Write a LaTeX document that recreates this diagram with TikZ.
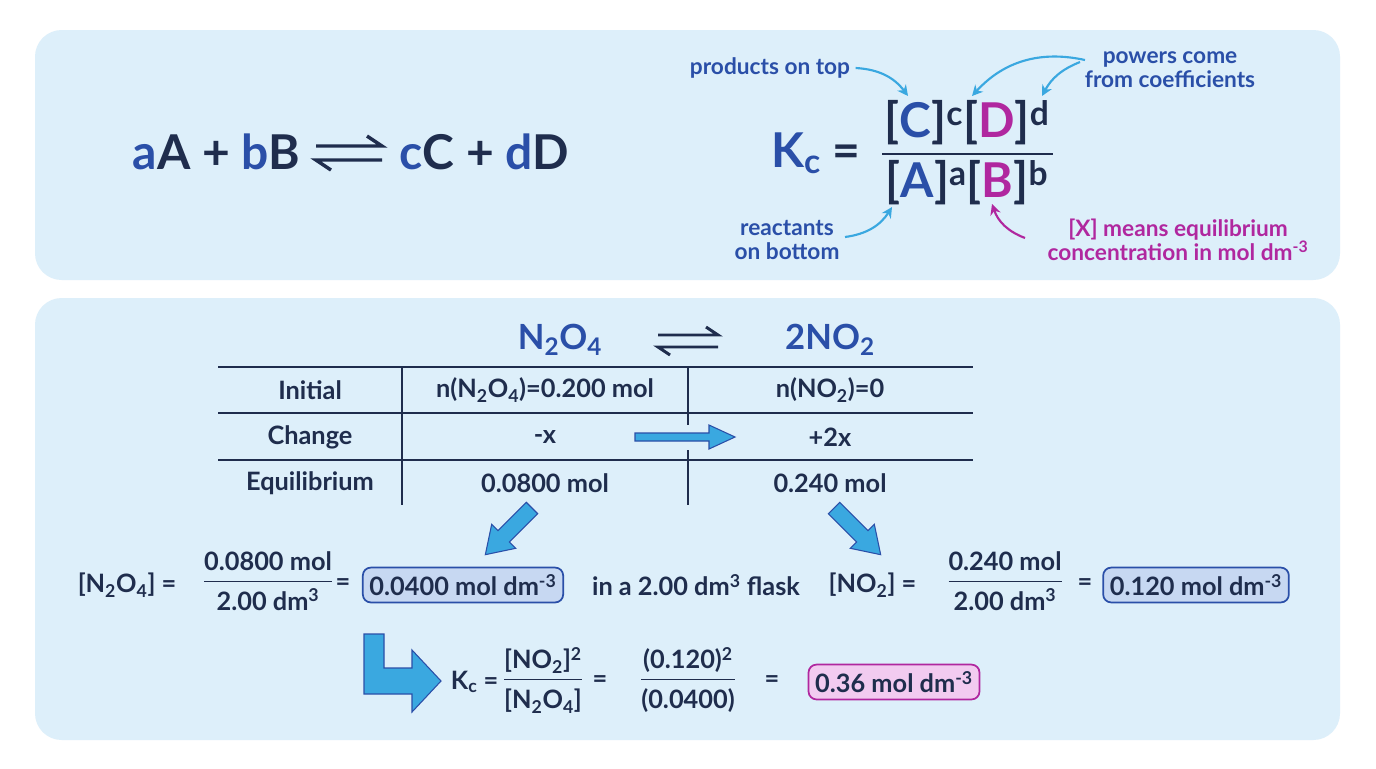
\documentclass[tikz,border=0pt]{standalone}
\usepackage{fontspec}
\setmainfont{Lato}
\usetikzlibrary{arrows.meta}
\definecolor{navy}{HTML}{1F2D4D}
\definecolor{eqblue}{HTML}{2A4FA8}
\definecolor{mag}{HTML}{B0279F}
\definecolor{cyanA}{HTML}{3AA8E0}
\definecolor{panel}{HTML}{DDEFFA}
\definecolor{boxb}{HTML}{C7D8F2}
\definecolor{boxp}{HTML}{F2CBF0}
\newcommand{\fr}[2]{\setlength{\arrayrulewidth}{1.3pt}\begin{tabular}{@{}c@{}}#1\\[1pt]\hline\rule{0pt}{1.1em}#2\end{tabular}}
\newcommand{\sub}[1]{\textsubscript{#1}}
\newcommand{\sps}[1]{\textsuperscript{#1}}
% fat arrow: at, rotation, length, half shaft, half head, head length
\newcommand{\fatarr}[6]{\begin{scope}[shift={#1},rotate=#2]
\fill[cyanA,draw=eqblue,line width=0.8pt] (0,-#4) -- ({#3-#6},-#4) -- ({#3-#6},-#5) -- (#3,0) -- ({#3-#6},#5) -- ({#3-#6},#4) -- (0,#4) -- cycle;
\end{scope}}
\begin{document}
\begin{tikzpicture}[x=0.75pt,y=-0.75pt,
  txt/.style={text=navy,font=\fontsize{19}{21}\selectfont\bfseries,inner sep=1pt},
  ann/.style={text=eqblue,font=\fontsize{17}{18}\selectfont\bfseries,align=center,inner sep=1pt},
  big/.style={text=navy,font=\fontsize{36}{38}\selectfont\bfseries,inner sep=1pt},
  res/.style={draw=eqblue,line width=1.3pt,fill=boxb,rounded corners=6pt,inner sep=5pt,text=navy,font=\fontsize{19}{21}\selectfont\bfseries},
  carr/.style={draw=cyanA,line width=1.6pt,-{Stealth[length=8pt,width=8pt]}},
  tl/.style={draw=navy,line width=1.5pt}]
\useasboundingbox (0,0) rectangle (1376,768);
\fill[white] (0,0) rectangle (1376,768);
\fill[panel,rounded corners=20pt] (35,30) rectangle (1340,280);
\fill[panel,rounded corners=20pt] (35,298) rectangle (1340,740);
% top left equation
\node[big,anchor=east] (lhs) at (302,152) {\textcolor{eqblue}{a}A + \textcolor{eqblue}{b}B};
\node[big,anchor=west] (rhs) at (398,152) {\textcolor{eqblue}{c}C + \textcolor{eqblue}{d}D};
\draw[navy,line width=2.6pt] (316,146) -- (382,146) -- (367,136);
\draw[navy,line width=2.6pt] (382,160) -- (316,160) -- (331,170);
% Kc
\node[big,anchor=east] (kc) at (862,153) {\textcolor{eqblue}{K\sub{c}} =};
\draw[navy,line width=2.2pt] (882,154) -- (1053,154);
\node[big] (num) at (967,123) {[\textcolor{eqblue}{C}]\sps{c}[\textcolor{mag}{D}]\sps{d}};
\node[big] (den) at (967,183) {[\textcolor{eqblue}{A}]\sps{a}[\textcolor{mag}{B}]\sps{b}};
\node[ann] (prod) at (770,68) {products on top};
\node[ann] (pow) at (1170,70) {powers come\\from coefficients};
\node[ann] (reac) at (787,240) {reactants\\on bottom};
\node[ann,text=mag] (xm) at (1178,240) {[X] means equilibrium\\concentration in mol dm\sps{-3}};
\coordinate (p1) at (908,96); \coordinate (p2) at (972,96); \coordinate (p3) at (1042,96);
\coordinate (r1) at (892,207); \coordinate (m1) at (992,204);
\draw[carr] (prod.east) ++(4,0) to[bend left=25] (p1);
\draw[carr] (1085,60) to[bend right=30] (p2);
\draw[carr] (1080,62) to[bend right=20] (p3);
\draw[carr] (reac.east) ++(4,-3) to[bend right=25] (r1);
\draw[carr,draw=mag] (1025,238) to[bend left=25] (m1);
% panel 2 header
\node[txt,font=\fontsize{26}{28}\selectfont\bfseries,text=eqblue] (n2o4) at (560,340) {N\sub{2}O\sub{4}};
\node[txt,font=\fontsize{26}{28}\selectfont\bfseries,text=eqblue] (no2) at (830,340) {2NO\sub{2}};
\draw[navy,line width=2.2pt] (658,335) -- (718,335) -- (706,327);
\draw[navy,line width=2.2pt] (718,347) -- (658,347) -- (670,355);
% table
\draw[tl] (218,367) -- (973,367);
\draw[tl] (218,413) -- (973,413);
\draw[tl] (218,460) -- (973,460);
\draw[tl] (402,367) -- (402,505);
\draw[tl] (688,367) -- (688,425); \draw[tl] (688,450) -- (688,505);
\node[txt] (r1l) at (310,390) {Initial};
\node[txt] (r2l) at (310,437) {Change};
\node[txt] (r3l) at (310,483) {Equilibrium};
\node[txt] (c11) at (545,390) {n(N\sub{2}O\sub{4})=0.200 mol};
\node[txt] (c12) at (830,390) {n(NO\sub{2})=0};
\node[txt] (c21) at (545,437) {-x};
\node[txt] (c22) at (830,437) {+2x};
\node[txt] (c31) at (545,483) {0.0800 mol};
\node[txt] (c32) at (830,483) {0.240 mol};
\fatarr{(635,437)}{0}{100}{4}{12}{26}
\fatarr{(532,508)}{-135}{66}{8}{17}{26}
\fatarr{(834,508)}{-45}{66}{8}{17}{26}
% row 4
\node[txt,anchor=east] (l1) at (178,585) {[N\sub{2}O\sub{4}] =};
\node[txt] (f1) at (268,585) {\fr{0.0800 mol}{2.00 dm\sps{3}}};
\node[txt] (e1) at (343,585) {=};
\node[res] (b1) at (463,585) {0.0400 mol dm\sps{-3}};
\node[txt] (fl) at (696,585) {in a 2.00 dm\sps{3} flask};
\node[txt,anchor=east] (l2) at (918,585) {[NO\sub{2}] =};
\node[txt] (f2) at (1005,585) {\fr{0.240 mol}{2.00 dm\sps{3}}};
\node[txt] (e2) at (1085,585) {=};
\node[res] (b2) at (1196,585) {0.120 mol dm\sps{-3}};
% row 5
\fill[cyanA,draw=eqblue,line width=0.8pt] (364,634) -- (384,634) -- (384,668) -- (412,668) -- (412,650) -- (441,681) -- (412,712) -- (412,694) -- (364,694) -- cycle;
\node[txt,anchor=east] (k2) at (500,682) {K\sub{c} =};
\node[txt] (f3) at (543,682) {\fr{[NO\sub{2}]\sps{2}}{[N\sub{2}O\sub{4}]}};
\node[txt] (e3) at (600,682) {=};
\node[txt] (f4) at (688,682) {\fr{(0.120)\sps{2}}{(0.0400)}};
\node[txt] (e4) at (772,682) {=};
\node[res,draw=mag,fill=boxp] (b3) at (894,682) {0.36 mol dm\sps{-3}};
\end{tikzpicture}
\end{document}
